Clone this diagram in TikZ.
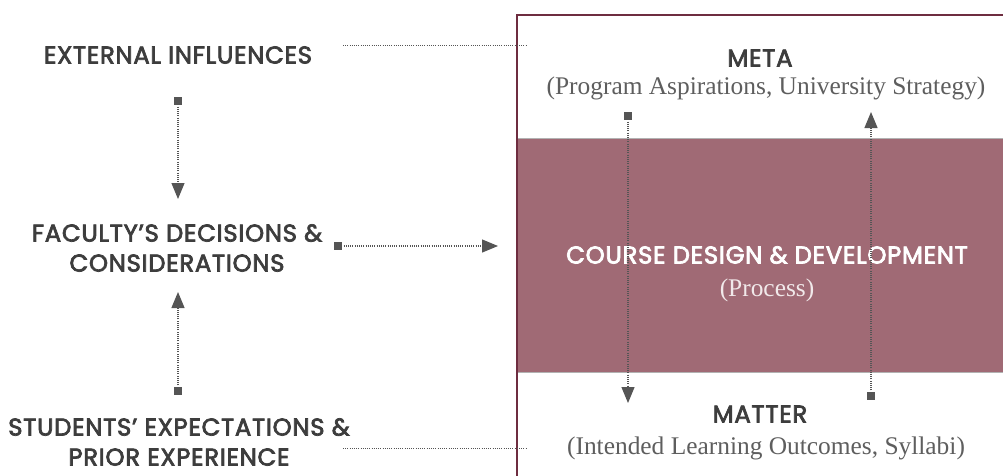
\documentclass[tikz,border=0pt]{standalone}
\usepackage{fontspec}
\setmainfont{Liberation Serif}
\newfontfamily\capsfont[LetterSpace=3,FakeBold=3]{Poppins}
\usetikzlibrary{arrows.meta,calc}
\definecolor{txt}{HTML}{3D3D3D}
\definecolor{serifgray}{HTML}{5E5E5E}
\definecolor{band}{HTML}{A06A75}
\definecolor{frame}{HTML}{6E2D40}
\definecolor{dotc}{HTML}{555555}
\tikzset{
  caps/.style={font=\capsfont\fontsize{24.3}{30}\selectfont, text=txt, align=center, inner sep=0pt},
  sub/.style={font=\fontsize{25.4}{29}\selectfont, text=serifgray, align=center, inner sep=0pt},
  dotline/.style={dotc, line width=1.2pt, dash pattern=on 1pt off 1.2pt},
  flow/.style={dotline, {Square[length=8pt,width=8pt,fill=dotc]}-{Triangle[length=16pt,width=13pt,fill=dotc]}},
}
\begin{document}
\begin{tikzpicture}[x=1pt,y=-1pt]
\useasboundingbox (0,0) rectangle (1003,475);
% frame and band
\fill[white] (517,14) rectangle (1010,480);
\fill[band] (517,138) rectangle (1010,372);
\draw[gray!60, line width=0.6pt] (517,138) -- (1010,138) (517,372) -- (1010,372);
\draw[frame, line width=1.6pt] (517,480) -- (517,15) -- (1010,15);
% left texts
\node[caps] (ext) at (178,55) {EXTERNAL INFLUENCES};
\node[caps] (fac) at (177,248) {FACULTY’S DECISIONS \&\\CONSIDERATIONS};
\node[caps] (stu) at (179,442) {STUDENTS’ EXPECTATIONS \&\\PRIOR EXPERIENCE};
% right texts
\node[caps] (meta) at (760,58) {META};
\node[sub] (metasub) at (766,88) {(Program Aspirations, University Strategy)};
\node[caps, text=white] (cdd) at (767,255) {COURSE DESIGN \& DEVELOPMENT};
\node[sub, text=white!85!band] (proc) at (767,290) {(Process)};
\node[caps] (matter) at (760,414) {MATTER};
\node[sub] (mattersub) at (766,448) {(Intended Learning Outcomes, Syllabi)};
% coordinates
\coordinate (a1) at (178,97);
\coordinate (a2) at (178,199);
\coordinate (b1) at (178,395);
\coordinate (b2) at (178,292);
\coordinate (c1) at (334,246);
\coordinate (c2) at (498,246);
\coordinate (d1) at (628,112);
\coordinate (d2) at (628,403);
\coordinate (e1) at (871,400);
\coordinate (e2) at (871,112);
\coordinate (f1) at (343,45);
\coordinate (f2) at (527,45);
\coordinate (g1) at (343,448);
\coordinate (g2) at (527,448);
% connectors
\draw[flow] (a1) -- (a2);
\draw[flow] (b1) -- (b2);
\draw[flow] (c1) -- (c2);
\draw[flow] (d1) -- (d2);
\draw[flow] (e1) -- (e2);
\draw[dotline, line width=1pt] (f1) -- (f2);
\draw[dotline, line width=1pt] (g1) -- (g2);
\end{tikzpicture}
\end{document}
